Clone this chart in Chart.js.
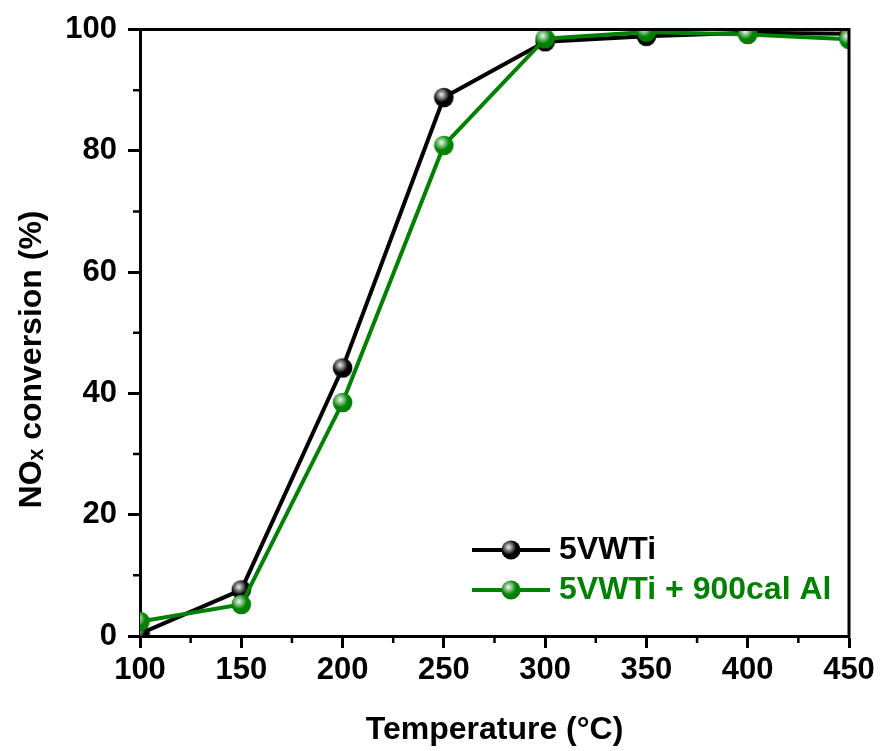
<!DOCTYPE html>
<html lang="en">
<head>
  <meta charset="UTF-8">
  <title>NOx conversion vs temperature</title>
  <script src="https://cdn.jsdelivr.net/npm/chart.js"></script>
  <style>
    body {
      background: #fff;
      margin: 0;
      padding: 0;
    }
    canvas {
      display: block;
    }
  </style>
</head>
<body>
  <canvas id="noxChart" width="880" height="751"></canvas>

  <script>
    // valores
    const temperaturas = [100, 150, 200, 250, 300, 350, 400, 450];
    const conv5VWTi = [0.4, 7.6, 44.2, 88.8, 98.0, 98.9, 99.5, 99.3];
    const conv900Al = [2.4, 5.2, 38.5, 80.9, 98.5, 99.6, 99.2, 98.4];
    const etiquetas = ['5VWTi', '5VWTi + 900cal Al'];
    const colores = ['#000000', '#008000'];

    const fuente = "'Liberation Sans', Arial, sans-serif";

    // bolita con brillo, como en Origin
    function bola(g, cx, cy, r, color) {
      g.fillStyle = color;
      g.beginPath();
      g.arc(cx, cy, r, 0, Math.PI * 2);
      g.fill();
      const gr = g.createRadialGradient(cx - r * 0.25, cy - r * 0.3, 0, cx - r * 0.25, cy - r * 0.3, r * 0.8);
      gr.addColorStop(0, 'rgba(255,255,255,0.95)');
      gr.addColorStop(1, 'rgba(255,255,255,0)');
      g.fillStyle = gr;
      g.beginPath();
      g.arc(cx, cy, r, 0, Math.PI * 2);
      g.fill();
    }

    function marcador(color) {
      const c = document.createElement('canvas');
      c.width = 21; c.height = 21;
      bola(c.getContext('2d'), 10.5, 10.5, 9.8, color);
      return c;
    }

    function iconoLeyenda(color) {
      const c = document.createElement('canvas');
      c.width = 78; c.height = 22;
      const g = c.getContext('2d');
      g.strokeStyle = color;
      g.lineWidth = 4;
      g.beginPath();
      g.moveTo(0, 11);
      g.lineTo(78, 11);
      g.stroke();
      bola(g, 39, 11, 9.5, color);
      return c;
    }

    const marcadores = colores.map(marcador);
    const iconos = colores.map(iconoLeyenda);

    // marco superior/derecho, ticks menores y posición de la leyenda
    const marco = {
      id: 'marco',
      afterLayout(chart) {
        const lg = chart.legend;
        if (!lg) return;
        lg.left = 471;
        lg.right = 878;
        lg.top = 526;
        lg.bottom = chart.chartArea.bottom;
      },
      afterDraw(chart) {
        const { ctx, chartArea: a, scales: { x, y } } = chart;
        ctx.save();
        ctx.strokeStyle = '#000';
        ctx.lineWidth = 3;
        ctx.beginPath();
        ctx.moveTo(a.left - 1.5, a.top);
        ctx.lineTo(a.right, a.top);
        ctx.lineTo(a.right, a.bottom + 1.5);
        ctx.stroke();

        ctx.lineWidth = 2.5;
        ctx.beginPath();
        for (let v = 10; v < 100; v += 20) {
          const p = y.getPixelForValue(v);
          ctx.moveTo(a.left - 7, p);
          ctx.lineTo(a.left, p);
        }
        for (let v = 125; v < 450; v += 50) {
          const p = x.getPixelForValue(v);
          ctx.moveTo(p, a.bottom);
          ctx.lineTo(p, a.bottom + 7);
        }
        ctx.stroke();
        ctx.restore();
      }
    };

    const series = [conv5VWTi, conv900Al].map((vals, i) => ({
      label: etiquetas[i],
      data: temperaturas.map((t, k) => ({ x: t, y: vals[k] })),
      borderColor: colores[i],
      backgroundColor: colores[i],
      borderWidth: 4,
      pointStyle: marcadores[i],
      pointRadius: 10,
      tension: 0,
      order: i === 0 ? 1 : 0
    }));

    const ejeComun = {
      border: { display: true, color: '#000', width: 3 },
      grid: {
        drawOnChartArea: false,
        drawTicks: true,
        tickLength: 12,
        tickWidth: 3,
        tickColor: '#000'
      }
    };

    const chart = new Chart(document.getElementById('noxChart'), {
      type: 'line',
      data: { datasets: series },
      options: {
        responsive: false,
        animation: false,
        layout: { padding: { top: 28, right: 31, left: 0, bottom: 0 } },
        plugins: {
          tooltip: { enabled: false },
          legend: {
            position: 'chartArea',
            align: 'start',
            labels: {
              usePointStyle: true,
              pointStyleWidth: 64,
              padding: 8,
              font: { family: fuente, size: 32, weight: 'bold' },
              generateLabels: (ch) => ch.data.datasets.map((ds, i) => ({
                text: ds.label,
                fillStyle: colores[i],
                strokeStyle: colores[i],
                fontColor: colores[i],
                lineWidth: 0,
                pointStyle: iconos[i],
                datasetIndex: i,
                hidden: false
              }))
            }
          }
        },
        scales: {
          x: {
            type: 'linear',
            min: 100,
            max: 450,
            ...ejeComun,
            afterFit: (s) => { s.height = 115; },
            ticks: {
              stepSize: 50,
              color: '#000',
              padding: 4,
              maxRotation: 0,
              font: { family: fuente, size: 31, weight: 'bold' }
            },
            title: {
              display: true,
              text: 'Temperature (°C)',
              color: '#000',
              padding: { top: 0, bottom: 2 },
              font: { family: fuente, size: 32, weight: 'bold' }
            }
          },
          y: {
            min: 0,
            max: 100,
            ...ejeComun,
            afterFit: (s) => { s.width = 140; },
            ticks: {
              stepSize: 20,
              color: '#000',
              padding: 11,
              font: { family: fuente, size: 31, weight: 'bold' }
            },
            title: {
              display: true,
              text: 'NOₓ conversion (%)\u00a0\u00a0\u00a0\u00a0\u00a0\u00a0',
              color: '#000',
              padding: { top: 13, bottom: 0 },
              font: { family: fuente, size: 32, weight: 'bold' }
            }
          }
        }
      },
      plugins: [marco]
    });
  </script>
</body>
</html>
